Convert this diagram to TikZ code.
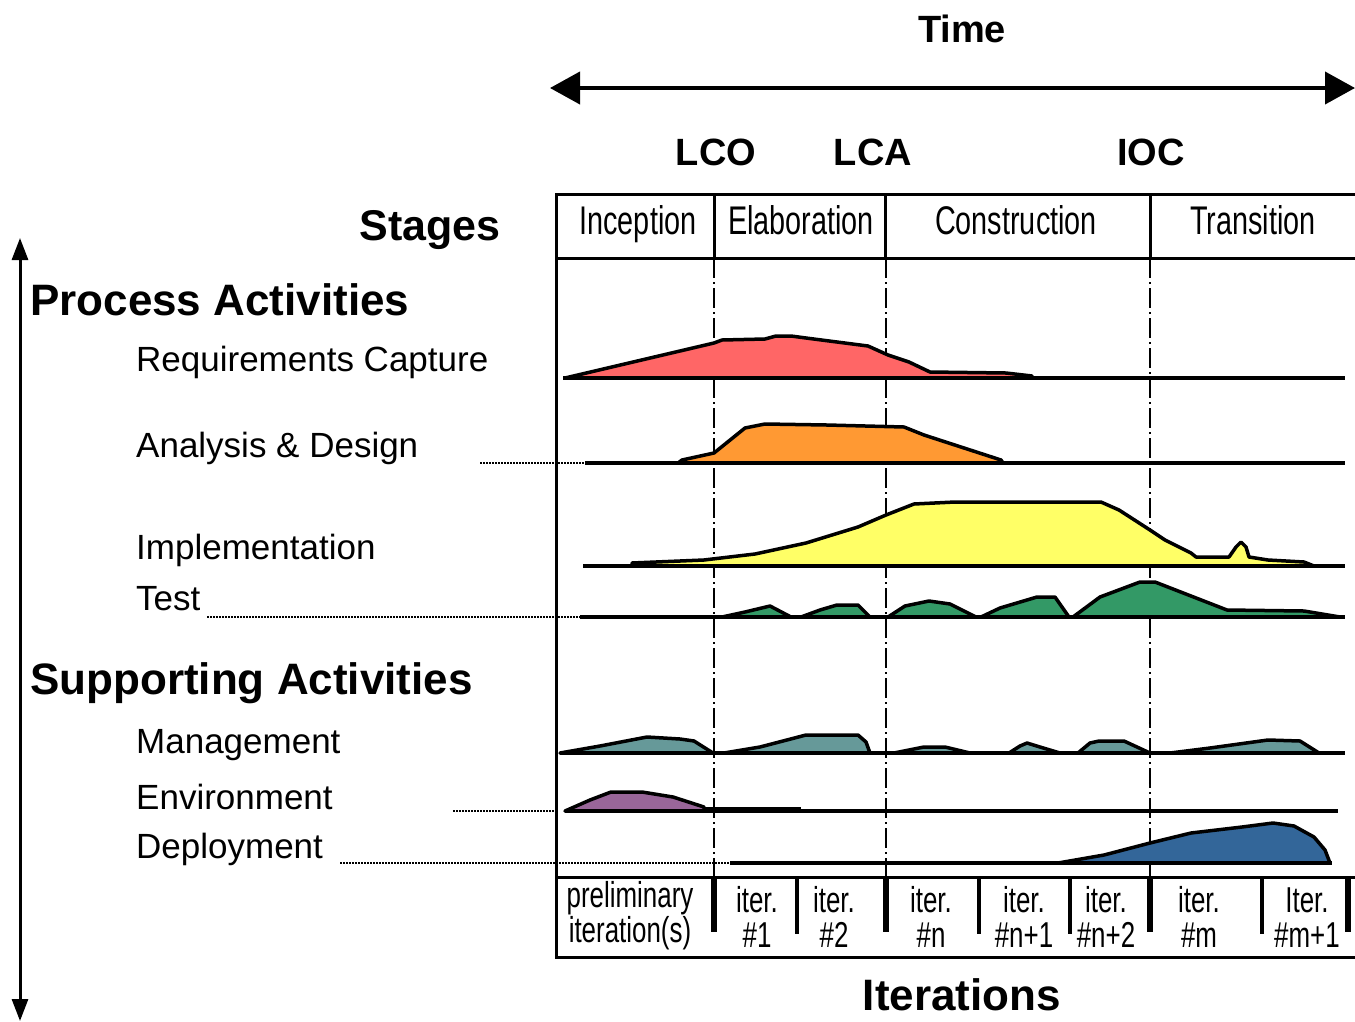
\documentclass[tikz,border=0pt]{standalone}
\usepackage{fontspec}
\setmainfont{Liberation Sans}
\newfontfamily\narrowfont[FakeStretch=0.72]{Liberation Sans}
\usetikzlibrary{arrows.meta}
\definecolor{reqred}{HTML}{FF6666}
\definecolor{adorange}{HTML}{FF9933}
\definecolor{implyellow}{HTML}{FFFF66}
\definecolor{testgreen}{HTML}{339966}
\definecolor{mgmtteal}{HTML}{669999}
\definecolor{envpurple}{HTML}{996699}
\definecolor{depblue}{HTML}{336699}
\begin{document}
\begin{tikzpicture}[x=1pt,y=-1pt,
  title/.style={anchor=base,inner sep=0pt,font=\fontsize{38}{40}\selectfont\bfseries},
  group/.style={anchor=base west,inner sep=0pt,font=\fontsize{44}{46}\selectfont\bfseries},
  act/.style={anchor=base west,inner sep=0pt,font=\fontsize{35}{37}\selectfont},
  phase/.style={anchor=base,inner sep=0pt,font=\narrowfont\fontsize{40}{42}\selectfont},
  iter/.style={anchor=base,inner sep=0pt,font=\narrowfont\fontsize{36}{38}\selectfont},
  hump/.style={draw=black,line width=3.5pt,line join=round},
  base/.style={line width=4pt},
  lead/.style={densely dotted,line width=2pt},
  mile/.style={line width=2.2pt,dash pattern=on 20pt off 4pt on 2pt off 4pt}]
\useasboundingbox (0,0) rectangle (1355,1021);
\node[title] (time) at (962,42) {Time};
\coordinate (tl) at (550,88);
\coordinate (tr) at (1355,88);
\draw[line width=4pt,{Triangle[length=30pt,width=32pt]}-{Triangle[length=30pt,width=32pt]}] (tl) -- (tr);
\node[title] (lco) at (716,165) {LCO};
\node[title] (lca) at (873,165) {LCA};
\node[title] (ioc) at (1151,165) {IOC};
\node[title,anchor=base east,font=\fontsize{43}{45}\selectfont\bfseries] (stages) at (501,240) {Stages};
\coordinate (vt) at (20,238);
\coordinate (vb) at (20,1021);
\draw[line width=3pt,{Triangle[length=22pt,width=16pt]}-{Triangle[length=22pt,width=16pt]}] (vb) -- (vt);
\node[group] (proc) at (30,315) {Process Activities};
\node[act] (req) at (136,371) {Requirements Capture};
\node[act] (ad) at (136,457) {Analysis \& Design};
\node[act] (impl) at (136,559) {Implementation};
\node[act] (test) at (136,610) {Test};
\node[group] (supp) at (30,694) {Supporting Activities};
\node[act] (mgmt) at (136,753) {Management};
\node[act] (env) at (136,809) {Environment};
\node[act] (dep) at (136,858) {Deployment};
\node[title,font=\fontsize{44}{46}\selectfont\bfseries] (iters) at (962,1010) {Iterations};
\draw[line width=3pt] (1355,194) -- (556,194) -- (556,957) -- (1355,957);
\draw[line width=3pt] (556,258) -- (1355,258);
\draw[line width=3pt] (556,877) -- (1355,877);
\foreach \x in {714,885,1150}
  \draw[line width=3pt] (\x,194) -- (\x,258);
\node[phase] (incep) at (638,234) {Inception};
\node[phase] (elab) at (801,234) {Elaboration};
\node[phase] (cons) at (1016,234) {Construction};
\node[phase] (trans) at (1253,234) {Transition};
\foreach \x in {714,886,1150}
  \draw[mile] (\x,258) -- (\x,877);
\foreach \x in {714,886,1150,1348}
  \draw[line width=6pt] (\x,877) -- (\x,932);
\foreach \x in {797,979,1070,1262}
  \draw[line width=4pt] (\x,877) -- (\x,934);
\node[iter] (pre1) at (630,907) {preliminary};
\node[iter] (pre2) at (630,942) {iteration(s)};
\node[iter] (it1a) at (757,912) {iter.};
\node[iter] (it1b) at (757,947) {\#1};
\node[iter] (it2a) at (834,912) {iter.};
\node[iter] (it2b) at (834,947) {\#2};
\node[iter] (itna) at (931,912) {iter.};
\node[iter] (itnb) at (931,947) {\#n};
\node[iter] (itn1a) at (1024,912) {iter.};
\node[iter] (itn1b) at (1024,947) {\#n+1};
\node[iter] (itn2a) at (1106,912) {iter.};
\node[iter] (itn2b) at (1106,947) {\#n+2};
\node[iter] (itma) at (1199,912) {iter.};
\node[iter] (itmb) at (1199,947) {\#m};
\node[iter] (itm1a) at (1307,912) {Iter.};
\node[iter] (itm1b) at (1307,947) {\#m+1};
\filldraw[hump,fill=reqred] (565,378) -- (714,343) -- (722,340) -- (765,339) -- (776,336) -- (791,336) -- (806,338)
  -- (868,346) -- (888,355) -- (909,362) -- (930,372) -- (1006,373) -- (1032,376) -- (1032,378) -- cycle;
\filldraw[hump,fill=adorange] (678,463) -- (682,460) -- (714,453) -- (745,428) -- (765,424) -- (827,425) -- (904,427)
  -- (924,435) -- (1001,460) -- (1003,463) -- cycle;
\filldraw[hump,fill=implyellow] (632,566) -- (632,563) -- (704,560) -- (755,554) -- (806,543) -- (858,527) -- (886,515)
  -- (914,504) -- (955,502) -- (1101,502) -- (1119,510) -- (1150,530) -- (1165,540) -- (1191,553) -- (1196,557)
  -- (1229,557) -- (1236,547) -- (1241,542) -- (1246,547) -- (1249,557) -- (1268,560) -- (1304,562) -- (1314,566) -- cycle;
\filldraw[hump,fill=testgreen] (722,617) -- (745,612) -- (770,606) -- (791,617) -- cycle;
\filldraw[hump,fill=testgreen] (801,617) -- (820,610) -- (837,605) -- (858,605) -- (870,617) -- cycle;
\filldraw[hump,fill=testgreen] (888,617) -- (905,606) -- (929,601) -- (950,604) -- (976,617) -- cycle;
\filldraw[hump,fill=testgreen] (981,617) -- (1000,608) -- (1037,597) -- (1055,597) -- (1069,617) -- cycle;
\filldraw[hump,fill=testgreen] (1073,617) -- (1100,597) -- (1140,582) -- (1155,582) -- (1227,610) -- (1304,611) -- (1340,617) -- cycle;
\filldraw[hump,fill=mgmtteal] (560,753) -- (600,746) -- (647,737) -- (680,739) -- (694,741) -- (713,753) -- cycle;
\filldraw[hump,fill=mgmtteal] (724,753) -- (760,747) -- (806,735) -- (858,735) -- (866,742) -- (870,753) -- cycle;
\filldraw[hump,fill=mgmtteal] (894,753) -- (924,747) -- (945,747) -- (970,753) -- cycle;
\filldraw[hump,fill=mgmtteal] (1009,753) -- (1020,746) -- (1027,743) -- (1040,747) -- (1060,753) -- cycle;
\filldraw[hump,fill=mgmtteal] (1078,753) -- (1090,743) -- (1099,741) -- (1124,741) -- (1150,753) -- cycle;
\filldraw[hump,fill=mgmtteal] (1170,753) -- (1210,748) -- (1268,740) -- (1300,741) -- (1319,753) -- cycle;
\filldraw[hump,fill=envpurple] (565,811) -- (590,800) -- (611,792) -- (642,792) -- (673,797) -- (704,807) -- (704,811) -- cycle;
\draw[line width=5pt] (704,809) -- (801,809);
\filldraw[hump,fill=depblue] (1058,863) -- (1104,855) -- (1150,843) -- (1191,833) -- (1242,827) -- (1273,823)
  -- (1294,826) -- (1314,837) -- (1325,850) -- (1330,863) -- cycle;
\draw[base] (563,378) -- (1345,378);
\draw[base] (585,463) -- (1345,463);
\draw[lead] (480,463) -- (585,463);
\draw[base] (583,566) -- (1345,566);
\draw[base] (580,617) -- (1345,617);
\draw[lead] (207,617) -- (580,617);
\draw[base] (560,753) -- (1345,753);
\draw[base] (565,811) -- (1338,811);
\draw[lead] (453,811) -- (556,811);
\draw[base] (730,863) -- (1332,863);
\draw[lead] (340,863) -- (730,863);
\end{tikzpicture}
\end{document}
